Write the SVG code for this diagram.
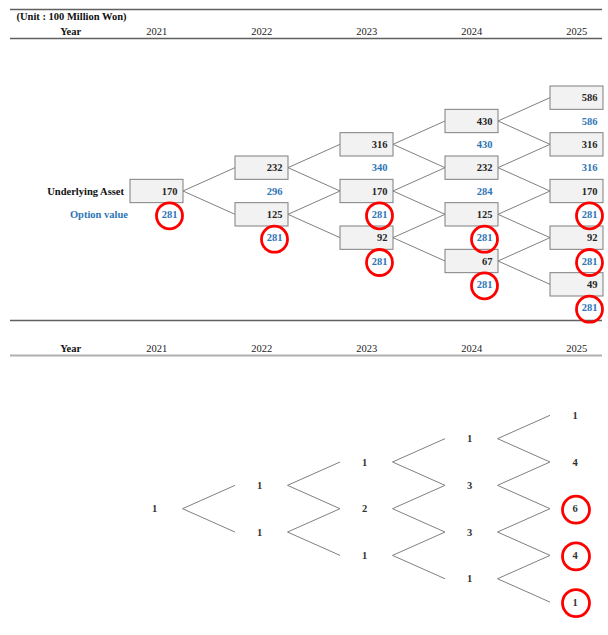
<svg xmlns="http://www.w3.org/2000/svg" width="608" height="635" viewBox="0 0 608 635">
<style>
text{font-family:"Liberation Serif","Times New Roman",serif;font-size:10.5px;}
.b{font-weight:bold;}
.h{fill:#111;}
.yr{fill:#222;text-anchor:middle;}
.num{font-weight:bold;fill:#262626;text-anchor:end;}
.opt{font-weight:bold;fill:#2E75B6;text-anchor:end;}
.cnt{font-weight:bold;fill:#333;text-anchor:middle;}
.box{fill:#f2f2f2;stroke:#7f7f7f;stroke-width:1;}
.ring{fill:none;stroke:#ff0000;stroke-width:2.8;}
.ln{fill:none;stroke:#808080;stroke-width:1;}
</style>
<rect width="608" height="635" fill="#ffffff"/>
<g id="header-top">
<line x1="10" y1="9.5" x2="602" y2="9.5" stroke="#606060" stroke-width="1.3"/>
<text class="b h" x="16.5" y="19.5">(Unit : 100 Million Won)</text>
<text class="b h" x="70.7" y="35.3" text-anchor="middle">Year</text>
<text class="yr" x="156.7" y="35.3">2021</text>
<text class="yr" x="261.7" y="35.3">2022</text>
<text class="yr" x="366.7" y="35.3">2023</text>
<text class="yr" x="471.7" y="35.3">2024</text>
<text class="yr" x="576.7" y="35.3">2025</text>
<line x1="10" y1="38.5" x2="602" y2="38.5" stroke="#606060" stroke-width="1.3"/>
<line x1="10" y1="320.5" x2="602" y2="320.5" stroke="#606060" stroke-width="1.3"/>
</g>
<g id="connectors-top">
<polyline class="ln" points="235,167.67 183,191 235,214.33"/>
<polyline class="ln" points="340,144.33 288,167.67 340,191"/>
<polyline class="ln" points="340,191 288,214.33 340,237.67"/>
<polyline class="ln" points="445,121 393,144.33 445,167.67"/>
<polyline class="ln" points="445,167.67 393,191 445,214.33"/>
<polyline class="ln" points="445,214.33 393,237.67 445,261"/>
<polyline class="ln" points="550,97.67 498,121 550,144.33"/>
<polyline class="ln" points="550,144.33 498,167.67 550,191"/>
<polyline class="ln" points="550,191 498,214.33 550,237.67"/>
<polyline class="ln" points="550,237.67 498,261 550,284.33"/>
</g>
<g id="labels-top">
<text class="b" x="124" y="194.6" text-anchor="end" fill="#111">Underlying Asset</text>
<text class="opt" x="128" y="217.9">Option value</text>
</g>
<g id="n2021"><rect class="box" x="130" y="179.33" width="53" height="23.33"/><text class="num" x="177.5" y="194.6">170</text></g>
<g id="v2021"><text class="opt" x="177.5" y="217.9">281</text><circle class="ring" cx="169.5" cy="215.8" r="13"/></g>
<g id="n2022a"><rect class="box" x="235" y="156" width="53" height="23.33"/><text class="num" x="282.5" y="171.3">232</text></g>
<g id="n2022b"><rect class="box" x="235" y="202.67" width="53" height="23.33"/><text class="num" x="282.5" y="217.9">125</text></g>
<g id="v2022"><text class="opt" x="282.5" y="194.6">296</text><text class="opt" x="282.5" y="241.3">281</text><circle class="ring" cx="274.5" cy="239.2" r="13"/></g>
<g id="n2023a"><rect class="box" x="340" y="132.67" width="53" height="23.33"/><text class="num" x="387.5" y="147.9">316</text></g>
<g id="n2023b"><rect class="box" x="340" y="179.33" width="53" height="23.33"/><text class="num" x="387.5" y="194.6">170</text></g>
<g id="n2023c"><rect class="box" x="340" y="226" width="53" height="23.33"/><text class="num" x="387.5" y="241.3">92</text></g>
<g id="v2023"><text class="opt" x="387.5" y="171.3">340</text><text class="opt" x="387.5" y="217.9">281</text><circle class="ring" cx="379.5" cy="215.8" r="13"/><text class="opt" x="387.5" y="264.6">281</text><circle class="ring" cx="379.5" cy="262.5" r="13"/></g>
<g id="n2024a"><rect class="box" x="445" y="109.33" width="53" height="23.33"/><text class="num" x="492.5" y="124.6">430</text></g>
<g id="n2024b"><rect class="box" x="445" y="156" width="53" height="23.33"/><text class="num" x="492.5" y="171.3">232</text></g>
<g id="n2024c"><rect class="box" x="445" y="202.67" width="53" height="23.33"/><text class="num" x="492.5" y="217.9">125</text></g>
<g id="n2024d"><rect class="box" x="445" y="249.33" width="53" height="23.33"/><text class="num" x="492.5" y="264.6">67</text></g>
<g id="v2024"><text class="opt" x="492.5" y="147.9">430</text><text class="opt" x="492.5" y="194.6">284</text><text class="opt" x="492.5" y="241.3">281</text><circle class="ring" cx="484.5" cy="239.2" r="13"/><text class="opt" x="492.5" y="287.9">281</text><circle class="ring" cx="484.5" cy="285.8" r="13"/></g>
<g id="n2025a"><rect class="box" x="550" y="86" width="53" height="23.33"/><text class="num" x="597.5" y="101.3">586</text></g>
<g id="n2025b"><rect class="box" x="550" y="132.67" width="53" height="23.33"/><text class="num" x="597.5" y="147.9">316</text></g>
<g id="n2025c"><rect class="box" x="550" y="179.33" width="53" height="23.33"/><text class="num" x="597.5" y="194.6">170</text></g>
<g id="n2025d"><rect class="box" x="550" y="226" width="53" height="23.33"/><text class="num" x="597.5" y="241.3">92</text></g>
<g id="n2025e"><rect class="box" x="550" y="272.67" width="53" height="23.33"/><text class="num" x="597.5" y="287.9">49</text></g>
<g id="v2025"><text class="opt" x="597.5" y="124.6">586</text><text class="opt" x="597.5" y="171.3">316</text><text class="opt" x="597.5" y="217.9">281</text><circle class="ring" cx="589.5" cy="215.8" r="13"/><text class="opt" x="597.5" y="264.6">281</text><circle class="ring" cx="589.5" cy="262.5" r="13"/><text class="opt" x="597.5" y="311.3">281</text><circle class="ring" cx="589.5" cy="309.2" r="13"/></g>
<g id="header-bottom">
<text class="b h" x="70.7" y="352" text-anchor="middle">Year</text>
<text class="yr" x="156.7" y="352">2021</text>
<text class="yr" x="261.7" y="352">2022</text>
<text class="yr" x="366.7" y="352">2023</text>
<text class="yr" x="471.7" y="352">2024</text>
<text class="yr" x="576.7" y="352">2025</text>
<line x1="10" y1="355.5" x2="602" y2="355.5" stroke="#b0b0b0" stroke-width="2"/>
</g>
<g id="connectors-bottom">
<polyline class="ln" points="235,485.35 182.5,508.7 235,532.05"/>
<polyline class="ln" points="340,462 287.5,485.35 340,508.7"/>
<polyline class="ln" points="340,508.7 287.5,532.05 340,555.4"/>
<polyline class="ln" points="445,438.65 392.5,462 445,485.35"/>
<polyline class="ln" points="445,485.35 392.5,508.7 445,532.05"/>
<polyline class="ln" points="445,532.05 392.5,555.4 445,578.75"/>
<polyline class="ln" points="550,415.3 497.5,438.65 550,462"/>
<polyline class="ln" points="550,462 497.5,485.35 550,508.7"/>
<polyline class="ln" points="550,508.7 497.5,532.05 550,555.4"/>
<polyline class="ln" points="550,555.4 497.5,578.75 550,602.1"/>
</g>
<g id="c2021"><text class="cnt" x="154.5" y="512.3">1</text></g>
<g id="c2022"><text class="cnt" x="259.5" y="489">1</text><text class="cnt" x="259.5" y="535.7">1</text></g>
<g id="c2023"><text class="cnt" x="364.5" y="465.6">1</text><text class="cnt" x="364.5" y="512.3">2</text><text class="cnt" x="364.5" y="559">1</text></g>
<g id="c2024"><text class="cnt" x="469.5" y="442.3">1</text><text class="cnt" x="469.5" y="489">3</text><text class="cnt" x="469.5" y="535.7">3</text><text class="cnt" x="469.5" y="582.4">1</text></g>
<g id="c2025"><text class="cnt" x="575" y="418.9">1</text><text class="cnt" x="575" y="465.6">4</text><text class="cnt" x="575" y="512.3">6</text><circle class="ring" cx="576" cy="509.7" r="13.5"/><text class="cnt" x="575" y="559">4</text><circle class="ring" cx="576" cy="556.4" r="13.5"/><text class="cnt" x="575" y="605.7">1</text><circle class="ring" cx="576" cy="603.1" r="13.5"/></g>
</svg>
